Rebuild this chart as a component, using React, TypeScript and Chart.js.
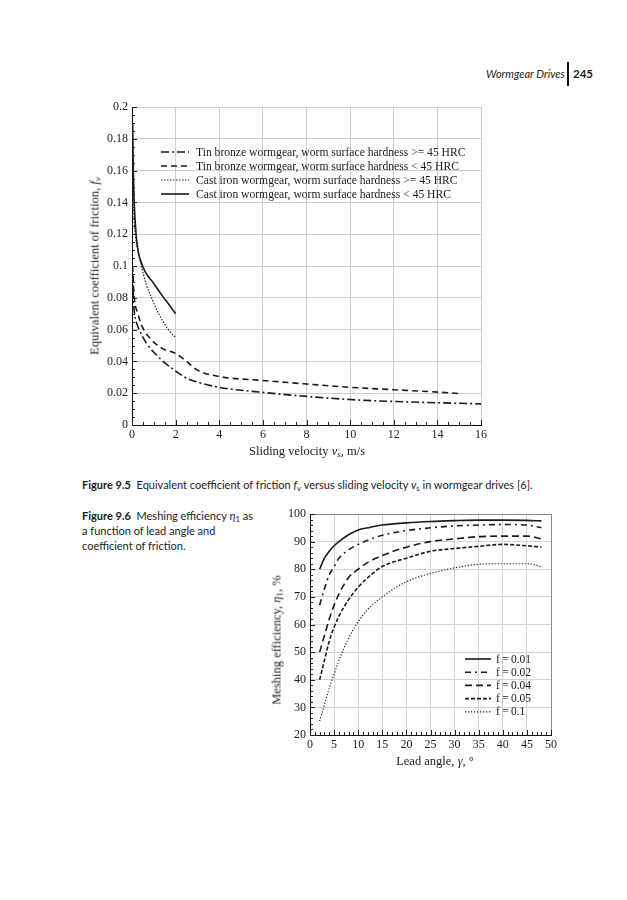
import React, { useEffect, useRef } from "react";
import { Chart, registerables } from "chart.js";
Chart.register(...registerables);

// ---------- Figure 9.5 data ----------
const seriesLabels95 = [
  "Tin bronze wormgear, worm surface hardness >= 45 HRC",
  "Tin bronze wormgear, worm surface hardness < 45 HRC",
  "Cast iron wormgear, worm surface hardness >= 45 HRC",
  "Cast iron wormgear, worm surface hardness < 45 HRC",
];
const vTinHard = [0.03, 0.06, 0.12, 0.27, 0.43, 0.66, 1.27, 2.0, 2.5, 3, 4, 6, 8, 10, 12, 14, 16];
const fTinHard = [0.095, 0.08, 0.07, 0.062, 0.057, 0.0515, 0.042, 0.034, 0.0295, 0.027, 0.0237, 0.0205, 0.018, 0.016, 0.0148, 0.014, 0.0133];
const vTinSoft = [0.03, 0.06, 0.12, 0.27, 0.43, 0.8, 1.4, 2.0, 2.5, 3, 4, 6, 8, 10, 12, 14, 15];
const fTinSoft = [0.1, 0.088, 0.078, 0.07, 0.063, 0.055, 0.048, 0.045, 0.04, 0.0345, 0.0305, 0.028, 0.0258, 0.0237, 0.0222, 0.0207, 0.0198];
const vCastHard = [0.03, 0.08, 0.15, 0.27, 0.43, 0.66, 0.9, 1.1, 1.42, 1.72, 2.0];
const fCastHard = [0.16, 0.135, 0.12, 0.11, 0.1, 0.088, 0.08, 0.0735, 0.065, 0.059, 0.055];
const vCastSoft = [0.03, 0.06, 0.1, 0.2, 0.3, 0.43, 0.6, 1.0, 1.35, 1.7, 2.0];
const fCastSoft = [0.19, 0.16, 0.14, 0.118, 0.108, 0.102, 0.0965, 0.089, 0.082, 0.0756, 0.07];

// ---------- Figure 9.6 data ----------
const seriesLabels96 = ["f\u2009=\u20090.01", "f\u2009=\u20090.02", "f\u2009=\u20090.04", "f\u2009=\u20090.05", "f\u2009=\u20090.1"];
const leadAngle = [2, 3, 4, 5, 6, 8, 10, 12, 15, 20, 25, 30, 35, 40, 45, 48];
const eff001 = [80, 84, 86.5, 88.5, 90, 92.5, 94.2, 95, 96, 96.8, 97.3, 97.6, 97.8, 97.8, 97.7, 97.5];
const eff002 = [67, 73, 78, 81, 84, 87, 89, 90.5, 92.3, 94, 95, 95.7, 96, 96.2, 96, 95];
const eff004 = [50, 56, 62, 67, 71, 77, 80, 82.5, 85, 88, 90, 91, 91.8, 92, 92, 91];
const eff005 = [40, 47, 54, 59, 63, 69, 73.5, 77, 81, 84, 86.5, 87.5, 88.3, 89, 88.5, 88];
const eff01 = [25, 31, 37, 42, 47, 55, 61, 65.5, 70, 75.5, 78.5, 80.5, 81.8, 82, 82, 81];

const pts = (xs: number[], ys: number[]) => xs.map((x, i) => ({ x, y: ys[i] }));

const SERIF = "'Liberation Serif', 'Times New Roman', serif";
const SANS = "Lato, 'Open Sans', sans-serif";
const INK = "#1b1b1b";

const innerLegend = {
  id: "innerLegend",
  afterDraw(chart: any, _args: any, opts: any) {
    if (!opts || !opts.show) return;
    const { ctx, chartArea } = chart;
    ctx.save();
    ctx.font = opts.font;
    ctx.textBaseline = "middle";
    ctx.fillStyle = INK;
    chart.data.datasets.forEach((ds: any, i: number) => {
      const yy = chartArea.top + opts.top + i * opts.row;
      const xx = chartArea.left + opts.left;
      ctx.setLineDash(ds.borderDash || []);
      ctx.lineWidth = ds.borderWidth;
      ctx.strokeStyle = ds.borderColor;
      ctx.beginPath();
      ctx.moveTo(xx, yy);
      ctx.lineTo(xx + opts.sample, yy);
      ctx.stroke();
      ctx.setLineDash([]);
      ctx.fillText(ds.label, xx + opts.sample + opts.gap, yy + 0.5);
    });
    ctx.restore();
  },
};

const frameTicks = {
  id: "frameTicks",
  afterDatasetsDraw(chart: any, _args: any, opts: any) {
    if (!opts || !opts.show) return;
    const { ctx, chartArea: a, scales } = chart;
    ctx.save();
    ctx.strokeStyle = "#222";
    ctx.lineWidth = 1;
    const run = (scale: any, minor: number, major: number, horiz: boolean) => {
      const n = Math.round((scale.max - scale.min) / minor);
      for (let i = 0; i <= n; i++) {
        const v = scale.min + i * minor;
        const isMajor = Math.abs(v / major - Math.round(v / major)) < 1e-6;
        const len = isMajor ? opts.majorLen : opts.minorLen;
        const p = Math.round(scale.getPixelForValue(v)) + 0.5;
        ctx.beginPath();
        if (horiz) {
          ctx.moveTo(p, a.bottom);
          ctx.lineTo(p, a.bottom - len);
        } else {
          ctx.moveTo(a.left, p);
          ctx.lineTo(a.left + len, p);
        }
        ctx.stroke();
      }
    };
    run(scales.x, opts.xMinor, opts.xMajor, true);
    run(scales.y, opts.yMinor, opts.yMajor, false);
    ctx.restore();
  },
};

Chart.register(innerLegend, frameTicks);

const lineDs = (label: string, data: any[], dash: number[], width = 1.6) => ({
  label,
  data,
  borderColor: INK,
  borderWidth: width,
  borderDash: dash,
  pointRadius: 0,
  fill: false,
  cubicInterpolationMode: "monotone" as const,
});

const tickFont = { family: SERIF, size: 12 };

function ChartFriction() {
  const ref = useRef<HTMLCanvasElement>(null);
  useEffect(() => {
    const chart = new Chart(ref.current as HTMLCanvasElement, {
      type: "line",
      data: {
        datasets: [
          lineDs(seriesLabels95[0], pts(vTinHard, fTinHard), [8, 3, 2, 3]),
          lineDs(seriesLabels95[1], pts(vTinSoft, fTinSoft), [6, 4]),
          lineDs(seriesLabels95[2], pts(vCastHard, fCastHard), [1.5, 1.5], 1.2),
          lineDs(seriesLabels95[3], pts(vCastSoft, fCastSoft), []),
        ],
      },
      options: {
        animation: false,
        responsive: false,
        maintainAspectRatio: false,
        layout: { padding: { left: 0, right: 19, top: 12, bottom: 0 } },
        plugins: {
          legend: { display: false },
          tooltip: { enabled: false },
          innerLegend: { show: true, font: `11.6px ${SERIF}`, left: 29, top: 45, row: 14, sample: 28, gap: 7 },
          frameTicks: { show: true, xMinor: 0.5, xMajor: 2, yMinor: 0.005, yMajor: 0.02, majorLen: 5, minorLen: 3 },
        } as any,
        scales: {
          x: {
            type: "linear",
            min: 0,
            max: 16,
            ticks: { stepSize: 2, padding: 3, font: tickFont, color: INK, maxRotation: 0 },
            grid: { color: "#cdcdcd", drawTicks: false },
            border: { color: "#111", width: 1 },
            afterFit(s: any) {
              s.height = 40;
              s.paddingLeft = 0;
              s.paddingRight = 0;
            },
          },
          y: {
            type: "linear",
            min: 0,
            max: 0.2,
            ticks: {
              stepSize: 0.02,
              padding: 4,
              font: tickFont,
              color: INK,
              callback: (v: any) => String(Math.round(Number(v) * 1000) / 1000),
            },
            grid: { color: "#cdcdcd", drawTicks: false },
            border: { color: "#111", width: 1 },
            afterFit(s: any) {
              s.width = 52;
              s.paddingTop = 0;
              s.paddingBottom = 0;
            },
          },
        },
      },
    });
    return () => chart.destroy();
  }, []);
  return (
    <canvas
      ref={ref}
      width={420}
      height={370}
      style={{ position: "absolute", left: 80, top: 95, width: 420, height: 370 }}
    />
  );
}

function ChartEfficiency() {
  const ref = useRef<HTMLCanvasElement>(null);
  useEffect(() => {
    const chart = new Chart(ref.current as HTMLCanvasElement, {
      type: "line",
      data: {
        datasets: [
          lineDs(seriesLabels96[0], pts(leadAngle, eff001), []),
          lineDs(seriesLabels96[1], pts(leadAngle, eff002), [6, 4, 2, 4]),
          lineDs(seriesLabels96[2], pts(leadAngle, eff004), [7, 4]),
          lineDs(seriesLabels96[3], pts(leadAngle, eff005), [4, 2]),
          lineDs(seriesLabels96[4], pts(leadAngle, eff01), [1.2, 1.8], 1.2),
        ],
      },
      options: {
        animation: false,
        responsive: false,
        maintainAspectRatio: false,
        layout: { padding: { left: 0, right: 9, top: 19, bottom: 0 } },
        plugins: {
          legend: { display: false },
          tooltip: { enabled: false },
          innerLegend: { show: true, font: `11.5px ${SERIF}`, left: 155, top: 145, row: 13.2, sample: 26, gap: 5 },
          frameTicks: { show: true, xMinor: 1, xMajor: 5, yMinor: 2, yMajor: 10, majorLen: 5, minorLen: 3 },
        } as any,
        scales: {
          x: {
            type: "linear",
            min: 0,
            max: 50,
            ticks: { stepSize: 5, padding: 3, font: tickFont, color: INK, maxRotation: 0 },
            grid: {
              color: (c: any) => (c.tick && c.tick.value === 50 ? "#8a8a8a" : "#d2d2d2"),
              drawTicks: false,
            },
            border: { color: "#111", width: 1 },
            afterFit(s: any) {
              s.height = 50;
              s.paddingLeft = 0;
              s.paddingRight = 0;
            },
          },
          y: {
            type: "linear",
            min: 20,
            max: 100,
            ticks: { stepSize: 10, padding: 4, font: tickFont, color: INK },
            grid: {
              color: (c: any) => (c.tick && c.tick.value === 100 ? "#8a8a8a" : "#d2d2d2"),
              drawTicks: false,
            },
            border: { color: "#111", width: 1 },
            afterFit(s: any) {
              s.width = 50;
              s.paddingTop = 0;
              s.paddingBottom = 0;
            },
          },
        },
      },
    });
    return () => chart.destroy();
  }, []);
  return (
    <canvas
      ref={ref}
      width={300}
      height={290}
      style={{ position: "absolute", left: 260, top: 495, width: 300, height: 290 }}
    />
  );
}

const Txt = ({ x, y, children, style, anchor = "center" }: any) => (
  <div
    style={{
      position: "absolute",
      left: x,
      top: y,
      whiteSpace: "nowrap",
      lineHeight: 1.2,
      transform: anchor === "center" ? "translate(-50%,-50%)" : anchor === "right" ? "translate(-100%,-50%)" : "translate(0,-50%)",
      color: INK,
      ...style,
    }}
  >
    {children}
  </div>
);

const subStyle: React.CSSProperties = { fontSize: "0.72em", verticalAlign: "-0.25em", lineHeight: 0 };

export default function App() {
  return (
    <div style={{ position: "absolute", left: 0, top: 0, width: 627, height: 900, background: "#fff", overflow: "hidden" }}>
      {/* running header */}
      <Txt x={565} y={74} anchor="right" style={{ fontFamily: SANS, fontStyle: "italic", fontSize: 11 }}>
        Wormgear Drives
      </Txt>
      <div style={{ position: "absolute", left: 567, top: 62, width: 1.5, height: 24, background: "#111" }} />
      <Txt x={573} y={74} anchor="left" style={{ fontFamily: SANS, fontWeight: 700, fontSize: 11.5 }}>
        245
      </Txt>

      <ChartFriction />
      <Txt x={307} y={451} style={{ fontFamily: SERIF, fontSize: 12.5 }}>
        Sliding velocity <i>v</i>
        <sub style={subStyle}><i>s</i></sub>, m/s
      </Txt>
      <Txt x={95} y={266} style={{ fontFamily: SERIF, fontSize: 12.5, transform: "translate(-50%,-50%) rotate(-90deg)" }}>
        Equivalent coefficient of friction, <i>f</i>
        <sub style={subStyle}><i>v</i></sub>
      </Txt>

      <Txt x={82} y={485} anchor="left" style={{ fontFamily: SANS, fontSize: 11 }}>
        <b>Figure 9.5</b>&nbsp; Equivalent coefficient of friction <i>f</i>
        <sub style={subStyle}>v</sub> versus sliding velocity <i>v</i>
        <sub style={subStyle}>s</sub> in wormgear drives [6].
      </Txt>

      <Txt x={82} y={516} anchor="left" style={{ fontFamily: SANS, fontSize: 11 }}>
        <b>Figure 9.6</b>&nbsp; Meshing efficiency <i>η</i>
        <sub style={subStyle}>1</sub> as
      </Txt>
      <Txt x={82} y={531} anchor="left" style={{ fontFamily: SANS, fontSize: 11 }}>
        a function of lead angle and
      </Txt>
      <Txt x={82} y={546} anchor="left" style={{ fontFamily: SANS, fontSize: 11 }}>
        coefficient of friction.
      </Txt>

      <ChartEfficiency />
      <Txt x={435} y={761} style={{ fontFamily: SERIF, fontSize: 12.5 }}>
        Lead angle, <i>γ</i>, °
      </Txt>
      <Txt x={277} y={640} style={{ fontFamily: SERIF, fontSize: 12.5, transform: "translate(-50%,-50%) rotate(-90deg)" }}>
        Meshing efficiency, <i>η</i>
        <sub style={subStyle}>1</sub>, %
      </Txt>
    </div>
  );
}
